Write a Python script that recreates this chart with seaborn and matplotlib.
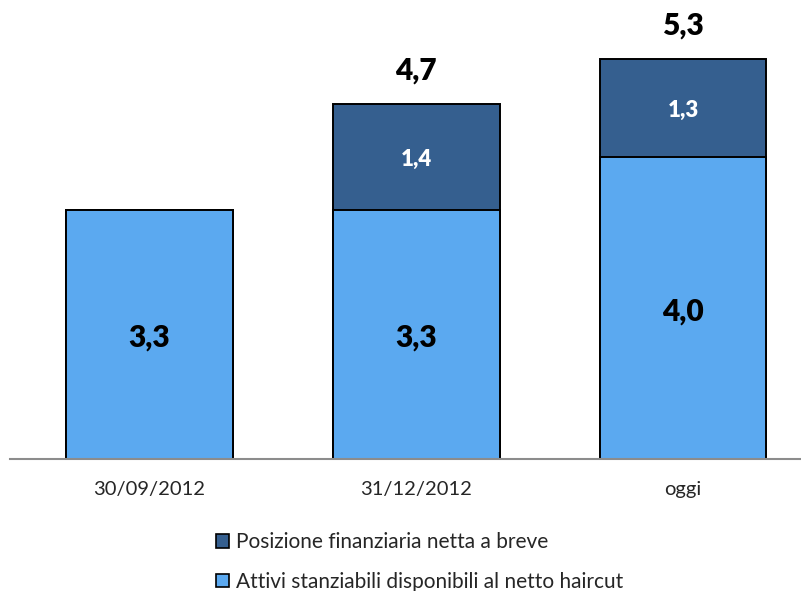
import numpy as np
import pandas as pd
import matplotlib
matplotlib.use("Agg")
import matplotlib.pyplot as plt
import seaborn as sns
from matplotlib.patches import Patch

# Data (billions)
categories = ["30/09/2012", "31/12/2012", "oggi"]
attivi = [3.3, 3.3, 4.0]          # Attivi stanziabili disponibili al netto haircut
posizione = [0.0, 1.4, 1.3]       # Posizione finanziaria netta a breve
series_names = ["Posizione finanziaria netta a breve",
                "Attivi stanziabili disponibili al netto haircut"]

totals = [a + p for a, p in zip(attivi, posizione)]

light = "#5BA9F0"
dark = "#355F8F"

sns.set_theme(style="white")
plt.rcParams["font.family"] = ["Lato", "DejaVu Sans"]

fig = plt.figure(figsize=(8.01, 5.91), dpi=100)
ax = fig.add_axes([10 / 801, 1 - 459 / 591, 1 - 10 / 801, 459 / 591])

df = pd.DataFrame({"cat": categories, "attivi": attivi, "totale": totals})

# Stacked bars: totals drawn first in dark, base segment drawn on top in light
sns.barplot(data=df, x="cat", y="totale", order=categories, color=dark,
            width=0.625, edgecolor="black", linewidth=1.4, saturation=1, ax=ax)
sns.barplot(data=df, x="cat", y="attivi", order=categories, color=light,
            width=0.625, edgecolor="black", linewidth=1.4, saturation=1, ax=ax)

ax.set_xlim(-0.522, 2.442)
ax.set_ylim(0, 6.08)
ax.set_xlabel("")
ax.set_ylabel("")
ax.set_yticks([])
ax.tick_params(axis="x", length=0, pad=16, labelsize=14.5)
for s in ["top", "left", "right"]:
    ax.spines[s].set_visible(False)
ax.spines["bottom"].set_color("#8c8c8c")
ax.spines["bottom"].set_linewidth(1.5)

def fmt(v):
    return f"{v:.1f}".replace(".", ",")

for i, (a, p, t) in enumerate(zip(attivi, posizione, totals)):
    ax.annotate(fmt(a), xy=(i, a / 2), xytext=(0, -2.5), textcoords="offset points",
                ha="center", va="center", fontsize=21.5, fontweight="heavy",
                color="black")
    if p > 0:
        ax.annotate(fmt(p), xy=(i, a + p / 2), xytext=(0, -1.5),
                    textcoords="offset points", ha="center", va="center",
                    fontsize=16, fontweight="heavy", color="white")
        ax.annotate(fmt(t), xy=(i, t), xytext=(0, 24), textcoords="offset points",
                    ha="center", va="center", fontsize=21.5, fontweight="heavy",
                    color="black")

handles = [Patch(facecolor=dark, edgecolor="black", linewidth=1.2),
           Patch(facecolor=light, edgecolor="black", linewidth=1.2)]
fig.legend(handles, series_names, loc="upper left",
           bbox_to_anchor=(206 / 801, 1 - 522 / 591), frameon=False,
           fontsize=15, handlelength=0.6, handleheight=0.6, handletextpad=0.35,
           labelspacing=0.95, borderpad=0)

fig.savefig("out.png", dpi=100)
